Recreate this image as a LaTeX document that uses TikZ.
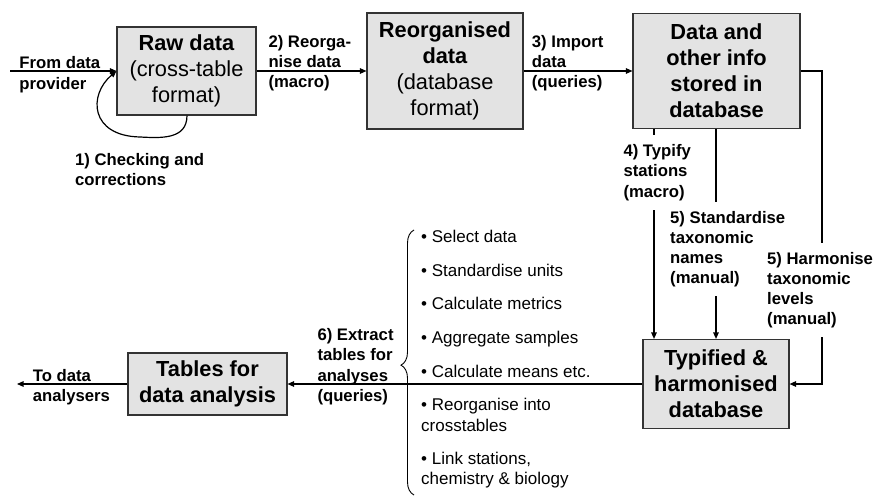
\documentclass[tikz,border=0pt]{standalone}
\usepackage{fontspec}
\setmainfont{Liberation Sans}
\usetikzlibrary{arrows.meta,decorations.pathreplacing}

\newcommand\dgboxfont{\fontsize{21.8}{26}\selectfont}
\newcommand\dglblfont{\fontsize{16.7}{20.3}\selectfont\bfseries}
\newcommand\dgitemfont{\fontsize{17}{20.5}\selectfont}

\begin{document}
\begin{tikzpicture}[x=1pt,y=-1pt,
  box/.style={draw=black!80, line width=1.1pt, fill=black!11, inner sep=0pt,
    align=center, font=\dgboxfont},
  arr/.style={line width=1.2pt, -{Triangle[length=6.5pt,width=5.5pt]}},
  lbl/.style={inner sep=0pt, align=left, anchor=north west, font=\dglblfont},
  gaplbl/.style={lbl, fill=white, inner xsep=2pt, inner ysep=9pt},
  item/.style={inner sep=0pt, align=left, anchor=north west, font=\dgitemfont},
]
\useasboundingbox (0,0) rectangle (884,497);

% process boxes
\node[box, minimum width=139pt, minimum height=88pt] (raw) at (186.5,71)
  {\textbf{Raw data}\\(cross-table\\format)};
\node[box, minimum width=156pt, minimum height=116pt] (reorg) at (445,71)
  {\textbf{Reorganised}\\\textbf{data}\\(database\\format)};
\node[box, minimum width=167pt, minimum height=115pt, font=\dgboxfont\bfseries] (db) at (716.5,71)
  {Data and\\other info\\stored in\\database};
\node[box, minimum width=146pt, minimum height=89pt, font=\dgboxfont\bfseries] (typ) at (716,384)
  {Typified \&\\harmonised\\database};
\node[box, minimum width=159pt, minimum height=62pt, font=\dgboxfont\bfseries] (tab) at (207.5,384)
  {Tables for\\data analysis};

% free ends and turning points
\coordinate (src) at (10,71);
\coordinate (dst) at (17,384);
\coordinate (tx) at (654,0);
\coordinate (hx) at (822,0);

% connectors
\draw[arr] (src) -- (raw.west);
\draw[arr] (raw.south -| 187,0) .. controls (187,140) and (160,138) .. (140,137)
  .. controls (90,136) and (88,95) .. (raw.west);
\draw[arr] (raw.east) -- (reorg.west);
\draw[arr] (reorg.east) -- (db.west);
\draw[arr] (db.south -| tx) -- (typ.north -| tx);
\draw[arr] (db.south -| typ.north) -- (typ.north);
\draw[arr] (db.east) -| (hx |- typ.east) -- (typ.east);
\draw[arr] (typ.west) -- (tab.east);
\draw[arr] (tab.west) -- (dst);

% step labels
\node[lbl] (lfrom) at (19.3,56.7) {From data\\provider};
\node[lbl] (lcheck) at (75,153.3) {1) Checking and\\corrections};
\node[lbl] (lreorg) at (268.3,35) {2) Reorga-\\nise data\\(macro)};
\node[lbl] (limport) at (531.7,35) {3) Import\\data\\(queries)};
\node[gaplbl] (ltypify) at (621.3,135.3) {4) Typify\\stations\\(macro)};
\node[gaplbl] (lstd) at (668,201.7) {5) Standardise\\taxonomic\\names\\(manual)};
\node[gaplbl] (lharm) at (765,242.7) {5) Harmonise\\taxonomic\\levels\\(manual)};
\node[lbl] (lextract) at (317.3,328.3) {6) Extract\\tables for\\analyses\\(queries)};
\node[lbl] (lto) at (32.7,369.3) {To data\\analysers};

% extraction options
\draw[line width=0.9pt, decorate, decoration={brace, amplitude=13pt, aspect=0.49}]
  (414,495) -- (414,230);
\node[item] (b1) at (421,230) {• Select data};
\node[item] (b2) at (421,264) {• Standardise units};
\node[item] (b3) at (421,297.3) {• Calculate metrics};
\node[item] (b4) at (421,331) {• Aggregate samples};
\node[item] (b5) at (421,365) {• Calculate means etc.};
\node[item] (b6) at (421,398.3) {• Reorganise into\\crosstables};
\node[item] (b7) at (421,451.7) {• Link stations,\\chemistry \& biology};
\end{tikzpicture}
\end{document}
